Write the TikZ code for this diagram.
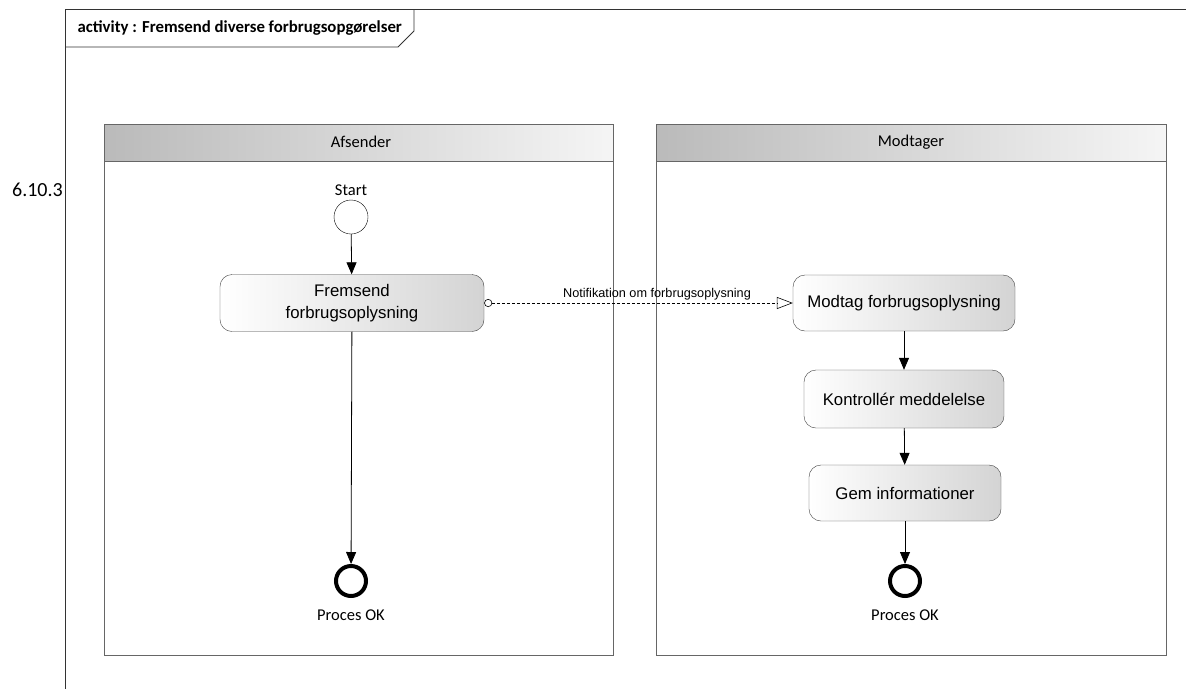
\documentclass[tikz,border=0pt]{standalone}
\usepackage{fontspec}
\setmainfont{Carlito}
\newfontfamily\arial{Liberation Sans}
\usetikzlibrary{arrows.meta}

\begin{document}
\begin{tikzpicture}[x=1pt, y=-1pt,
    lane/.style={draw=black!60, line width=1pt},
    lanehead/.style={draw=black!60, line width=1pt, left color=black!27, right color=black!4},
    act/.style={draw=black!75, rounded corners=12pt, left color=white, right color=black!17, inner sep=0pt, align=center, font=\arial\fontsize{16.8}{21.5}\selectfont},
    start/.style={draw, circle, minimum size=34pt, inner sep=0pt},
    final/.style={draw, circle, line width=4pt, minimum size=30pt, inner sep=0pt},
    lbl/.style={font=\fontsize{16.5}{19}\selectfont},
    arr/.style={-{Triangle[length=12pt, width=10pt]}, line width=0.8pt},
    msg/.style={dash pattern=on 3pt off 2pt, line width=0.6pt, {Circle[open, length=8pt, width=8pt]}-{Triangle[open, length=16pt, width=12pt]}}
]
    \useasboundingbox (0,0) rectangle (1186,689);

    % Frame
    \draw[black!80, line width=0.8pt] (1186,9) -- (65,9) -- (65,689);
    \draw[black!80, line width=0.8pt] (65,47) -- (398,47) -- (414,31) -- (414,9);
    \node[anchor=west, font=\bfseries\fontsize{16.8}{19}\selectfont] (title) at (74,28) {activity : Fremsend diverse forbrugsopgørelser};
    \node[anchor=east, inner sep=0pt, font=\fontsize{20}{24}\selectfont] (num) at (63,190) {6.10.3};

    % Afsender
    \draw[lanehead] (104,124) rectangle (613,161);
    \draw[lane] (104,161) rectangle (613,655);
    \node[lbl] (afs) at (361,142) {Afsender};

    % Modtager
    \draw[lanehead] (656,124) rectangle (1166,161);
    \draw[lane] (656,161) rectangle (1166,655);
    \node[lbl] (mod) at (911,142) {Modtager};

    % Afsender flow
    \node[start] (start) at (351,217) {};
    \node[lbl, above=1pt] (startlbl) at (start.north) {Start};
    \node[act, minimum width=264pt, minimum height=57pt] (fremsend) at (352,303) {Fremsend\\forbrugsoplysning};
    \node[final] (end1) at (351,581) {};
    \node[lbl, below=8pt] (end1lbl) at (end1.south) {Proces OK};

    % Modtager flow
    \node[act, minimum width=222pt, minimum height=56pt] (modtag) at (904,303) {Modtag forbrugsoplysning};
    \node[act, minimum width=200pt, minimum height=58pt] (kontrol) at (904,399) {Kontrollér meddelelse};
    \node[act, minimum width=192pt, minimum height=56pt] (gem) at (905,493) {Gem informationer};
    \node[final] (end2) at (905,581) {};
    \node[lbl, below=8pt] (end2lbl) at (end2.south) {Proces OK};

    % Connections
    \draw[arr] (start) -- (fremsend);
    \draw[arr] (fremsend) -- (end1);
    \draw[msg] (fremsend.east) -- node[pos=0.56, above=-1pt, font=\arial\fontsize{12.7}{15}\selectfont] {Notifikation om forbrugsoplysning} (modtag.west);
    \draw[arr] (modtag) -- (kontrol);
    \draw[arr] (kontrol) -- (gem);
    \draw[arr] (gem) -- (end2.north);
\end{tikzpicture}
\end{document}
